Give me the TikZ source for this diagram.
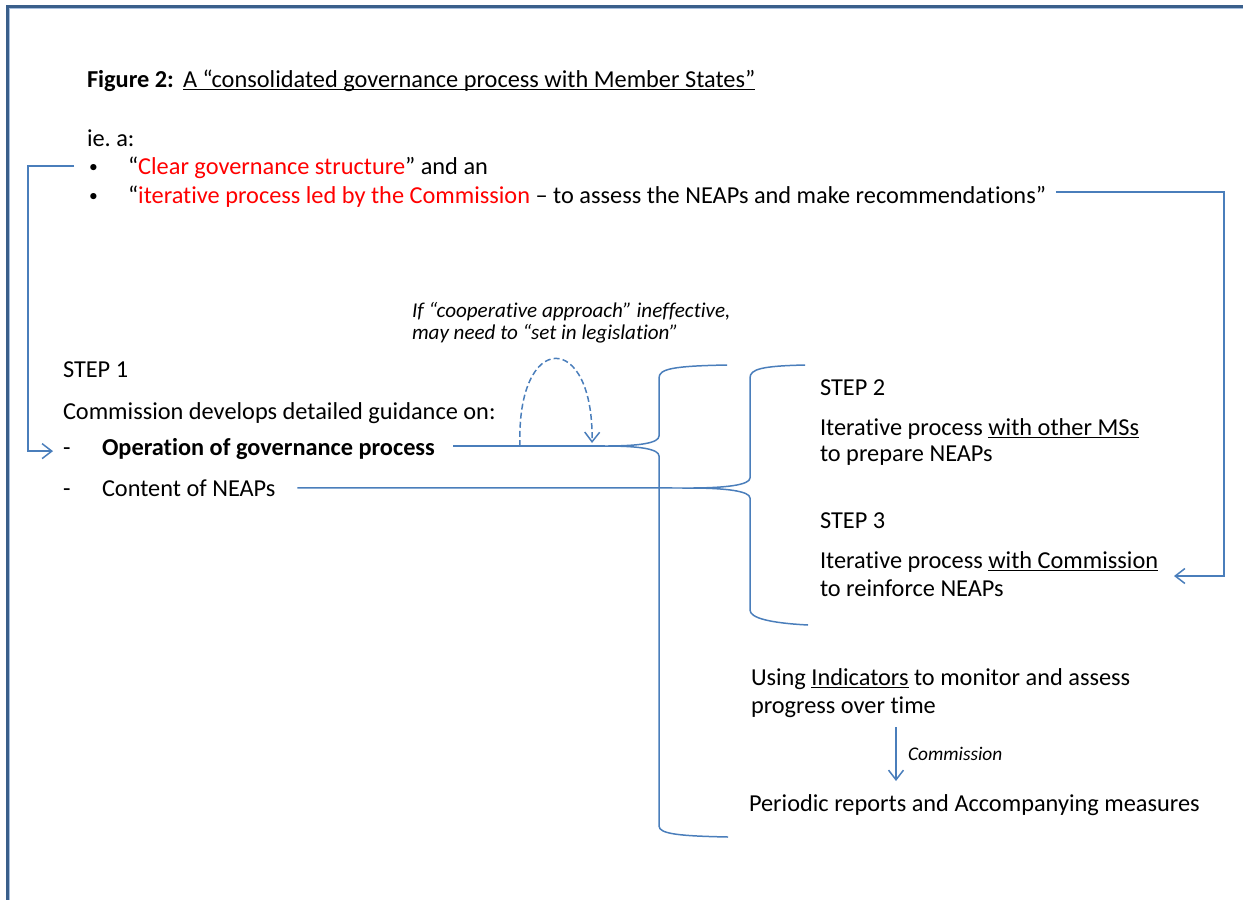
\documentclass[tikz,border=0pt]{standalone}
\usepackage{fontspec}
\setmainfont{Carlito}[Ligatures=NoCommon]
\usetikzlibrary{arrows.meta}
\usetikzlibrary{calc}
\definecolor{framec}{HTML}{3A5F8B}
\definecolor{framel}{HTML}{A7BFDE}
\definecolor{linkc}{HTML}{4A7EBB}
\tikzstyle{txt} = [anchor=base west, inner sep=0pt, outer sep=0pt, font=\fontsize{13.85}{15.5}\selectfont]
\tikzstyle{note} = [txt, font=\fontsize{12}{13}\selectfont\itshape]
\tikzstyle{small} = [txt, font=\fontsize{11}{12.5}\selectfont\itshape]
\tikzstyle{link} = [draw=linkc, line width=0.85pt]
\tikzstyle{arrow} = [link, -{Straight Barb[length=5.5pt,width=8.5pt]}]
\newcommand{\redtxt}[1]{\textcolor{red}{#1}}
\newcommand{\undl}[1]{\setbox0\hbox{#1}\rlap{\rule[-1.8pt]{\wd0}{0.75pt}}\box0\relax}
\newcommand{\bull}{{\fontsize{10}{10}\selectfont •}}
\newcommand{\gapx}{0.36cm}
\newcommand{\smallgap}{0.2cm}
\frenchspacing

\begin{document}
\begin{tikzpicture}[x=0.02cm,y=-0.02cm]

  \useasboundingbox (0,0) rectangle (1243,899);
  % frame, runs off right and bottom
  \draw[framec, line width=1.9pt] (1260,6.5) -- (7.5,6.5) -- (7.5,920);
  \draw[framel, line width=0.5pt] (1260,8.6) -- (9.6,8.6) -- (9.6,920);

  % heading
  \node (fig)   [txt] at (87,87)  {\textbf{Figure 2:}};
  \node (title) [txt] at (183,87) {\undl{A “consolidated governance process with Member States”}};
  \node (iea)   [txt] at (87,146) {ie. a:};
  \node (bul1)  [txt] at (89,172) {\bull};
  \node (clear) [txt] at (128,174) {“\redtxt{Clear governance structure}” and an};
  \node (bul2)  [txt] at (89,201) {\bull};
  \node (iter)  [txt] at (128,203) {“\redtxt{iterative process led by the Commission} – to assess the NEAPs and make recommendations”};

  % step 1
  \node (note1) [note] at (412,317) {If “cooperative approach” ineffective,};
  \node (note2) [note] at (412,339) {may need to “set in legislation”};
  \node (step1) [txt] at (63,377) {STEP 1};
  \node (guide) [txt] at (63,419) {Commission develops detailed guidance on:};
  \node (dash1) [txt] at (63,455) {-};
  \node (oper)  [txt] at (102,455) {\textbf{Operation of governance process}};
  \node (dash2) [txt] at (63,496) {-};
  \node (cont)  [txt] at (102,496) {Content of NEAPs};

  % steps 2 and 3
  \node (step2) [txt] at (820,395) {STEP 2};
  \node (s2a)   [txt] at (820,435) {Iterative process \undl{with other MSs}};
  \node (s2b)   [txt] at (820,461) {to prepare NEAPs};
  \node (step3) [txt] at (820,528) {STEP 3};
  \node (s3a)   [txt] at (820,568) {Iterative process \undl{with Commission}};
  \node (s3b)   [txt] at (820,596) {to reinforce NEAPs};

  % monitoring
  \node (ind)  [txt] at (751,685) {Using \undl{Indicators} to monitor and assess};
  \node (prog) [txt] at (751,713) {progress over time};
  \node (per)  [txt] at (749,811) {Periodic reports and Accompanying measures};
  \node (comm) [small] at (908,760) {Commission};

  \coordinate (tipa)  at (605,446);
  \coordinate (tipb)  at (690,488);
  \coordinate (loopa) at (520,446);
  \coordinate (loopb) at (592,443);
  \coordinate (s3in)  at (1174,576);
  \coordinate (mona)  at (896,727);
  \coordinate (monb)  at (896,781);

  % brace for steps 1 to monitoring
  \draw[link] (727,365) .. controls (672,366) and (659,369) .. (659,378) -- (659,436)
              .. controls (659,443) and (640,446) .. (tipa)
              .. controls (640,446) and (659,449) .. (659,456) -- (659,826)
              .. controls (659,834) and (680,836) .. (728,837);
  % brace for steps 2 and 3
  \draw[link] (805,365) .. controls (762,366) and (750,369) .. (750,378) -- (750,478)
              .. controls (750,485) and (725,488) .. (tipb)
              .. controls (725,488) and (750,491) .. (750,498) -- (750,610)
              .. controls (750,618) and (770,623) .. (808,625);

  % text - braces
  \draw[link, shorten >=\gapx] (tipa) -- (tipa -| oper.east);
  \draw[link] ([xshift=\gapx+0.08cm]cont.east) -- (tipb);

  % legislation loop
  \draw[arrow, dashed, dash pattern=on 3.4pt off 1.8pt] (loopa) .. controls (516,330) and (594,330) .. (loopb);

  % bullets - steps
  \draw[arrow] ([xshift=-0.3cm,yshift=0.04cm]bul1.west) -- ++(-46,0) |- ([xshift=-\smallgap]dash1.west);
  \draw[arrow] ([xshift=\smallgap,yshift=0.08cm]iter.east) -- ++(168,0) |- (s3in);

  % indicators - reports
  \draw[arrow] (mona) -- (monb);

\end{tikzpicture}
\end{document}
